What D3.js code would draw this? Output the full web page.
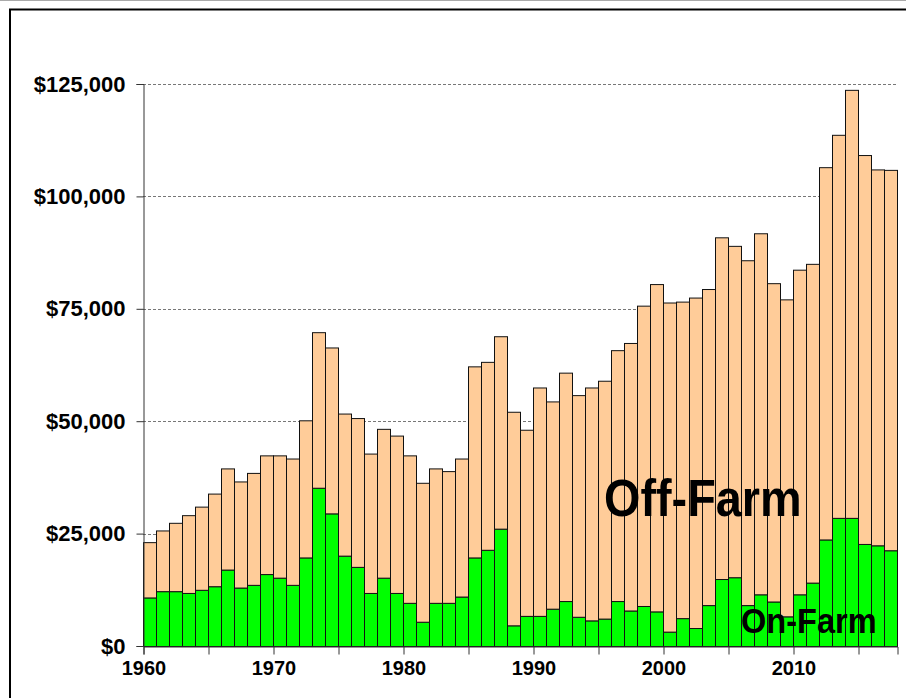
<!DOCTYPE html>
<html>
<head>
<meta charset="utf-8">
<script src="https://cdn.jsdelivr.net/npm/d3@7"></script>
<style>
  body { margin: 0; background: #fff; }
  svg { display: block; font-family: "Liberation Sans", Arial, sans-serif; }
</style>
</head>
<body>
<div id="wrapper"></div>
<script>
// 1. Data (dollars per farm household)
const years = d3.range(1960, 2018)
const onFarm = [
  10800, 12200, 12200, 11800, 12500, 13300, 17000, 13000, 13600, 16000,
  15200, 13600, 19700, 35200, 29500, 20100, 17600, 11800, 15200, 11800,
  9600, 5400, 9600, 9600, 11000, 19700, 21400, 26100, 4600, 6700,
  6700, 8300, 10000, 6500, 5700, 6100, 10000, 7900, 8900, 7700,
  3200, 6200, 4000, 9100, 14900, 15300, 9100, 11500, 9900, 6600,
  11500, 14100, 23700, 28500, 28500, 22700, 22400, 21300
]
const offFarm = [
  12300, 13500, 15200, 17300, 18500, 20600, 22500, 23600, 24900, 26400,
  27200, 28100, 30500, 34600, 36900, 31600, 33100, 31000, 33100, 35000,
  32800, 30900, 29900, 29300, 30700, 42500, 41800, 42800, 47500, 41400,
  50800, 46100, 50800, 49300, 51800, 52900, 55800, 59500, 66800, 72800,
  73200, 70400, 73500, 70300, 76000, 73700, 76700, 80300, 70800, 70500,
  72200, 70900, 82800, 85200, 95200, 86500, 83600, 84600
]
const yTicks = [0, 25000, 50000, 75000, 100000, 125000]
const xLabelYears = [1960, 1970, 1980, 1990, 2000, 2010]
const xTickYears = [1960, 1965, 1970, 1975, 1980, 1985, 1990, 1995, 2000, 2005, 2010, 2015]

const table = years.map((y, i) => ({ year: y, on: onFarm[i], off: offFarm[i] }))

// 2. Dimensions
const dimensions = {
  width: 906,
  height: 698,
  margin: { top: 84, right: 9, bottom: 52, left: 143 },
}
dimensions.boundedWidth = dimensions.width - dimensions.margin.left - dimensions.margin.right
dimensions.boundedHeight = dimensions.height - dimensions.margin.top - dimensions.margin.bottom

// 3. Canvas
const wrapper = d3.select("#wrapper")
  .append("svg")
  .attr("width", dimensions.width)
  .attr("height", dimensions.height)

// outer frame
wrapper.append("line")
  .attr("x1", 0).attr("x2", dimensions.width)
  .attr("y1", 0.5).attr("y2", 0.5)
  .attr("stroke", "#aaa")
wrapper.append("path")
  .attr("d", `M10,${dimensions.height + 5} V9.5 H${dimensions.width + 5}`)
  .attr("fill", "none")
  .attr("stroke", "#000")
  .attr("stroke-width", 2)

const bounds = wrapper.append("g")
  .attr("transform", `translate(${dimensions.margin.left},${dimensions.margin.top})`)

// 4. Scales
const xScale = d3.scaleBand()
  .domain(years)
  .range([0, dimensions.boundedWidth])
  .padding(0)

const yScale = d3.scaleLinear()
  .domain([0, 125000])
  .range([dimensions.boundedHeight, 0])

const stack = d3.stack().keys(["on", "off"])
const series = stack(table)
const colors = { on: "#00ff00", off: "#ffcc99" }

// gridlines
bounds.append("g")
  .selectAll("line")
  .data(yTicks.filter(d => d > 0))
  .join("line")
  .attr("x1", 0)
  .attr("x2", dimensions.boundedWidth)
  .attr("y1", d => Math.round(yScale(d)) + 0.5)
  .attr("y2", d => Math.round(yScale(d)) + 0.5)
  .attr("stroke", "#777")
  .attr("stroke-dasharray", "3,2")

// 5. Bars
bounds.append("g")
  .selectAll("g")
  .data(series)
  .join("g")
  .attr("fill", d => colors[d.key])
  .selectAll("rect")
  .data(d => d)
  .join("rect")
  .attr("x", d => xScale(d.data.year) + 0.5)
  .attr("y", d => yScale(d[1]) + 0.5)
  .attr("width", xScale.bandwidth())
  .attr("height", d => yScale(d[0]) - yScale(d[1]))
  .attr("stroke", "#111")
  .attr("stroke-width", 1)

// 6. Axes
const yAxisGen = d3.axisLeft(yScale)
  .tickValues(yTicks)
  .tickSize(7)
  .tickPadding(11)
  .tickFormat(d => "$" + d3.format(",")(d))

const yAxis = bounds.append("g")
  .attr("transform", "translate(0.5,0)")
  .call(yAxisGen)
yAxis.select(".domain").attr("stroke", "#333")
yAxis.selectAll(".tick line").attr("stroke", "#333")
yAxis.selectAll(".tick text")
  .attr("fill", "#000")
  .style("font-size", "22px")
  .style("font-weight", "bold")

const xAxisGen = d3.axisBottom(d3.scaleLinear().domain([1960, 2018]).range([0, dimensions.boundedWidth]))
  .tickValues(xTickYears)
  .tickSize(8)
  .tickPadding(6)
  .tickFormat(d => xLabelYears.includes(d) ? d : "")

const xAxis = bounds.append("g")
  .attr("transform", `translate(0.5,${dimensions.boundedHeight + 0.5})`)
  .call(xAxisGen)
xAxis.select(".domain").attr("stroke", "#333")
xAxis.selectAll(".tick line").attr("stroke", "#333")
xAxis.selectAll(".tick text")
  .attr("fill", "#000")
  .style("font-size", "20px")
  .style("font-weight", "bold")

// series labels
wrapper.append("text")
  .attr("transform", "translate(604,516) scale(0.9,1)")
  .style("font-size", "52px")
  .style("font-weight", "bold")
  .text("Off-Farm")

wrapper.append("text")
  .attr("transform", "translate(741,633) scale(0.93,1)")
  .style("font-size", "35px")
  .style("font-weight", "bold")
  .text("On-Farm")
</script>
</body>
</html>
